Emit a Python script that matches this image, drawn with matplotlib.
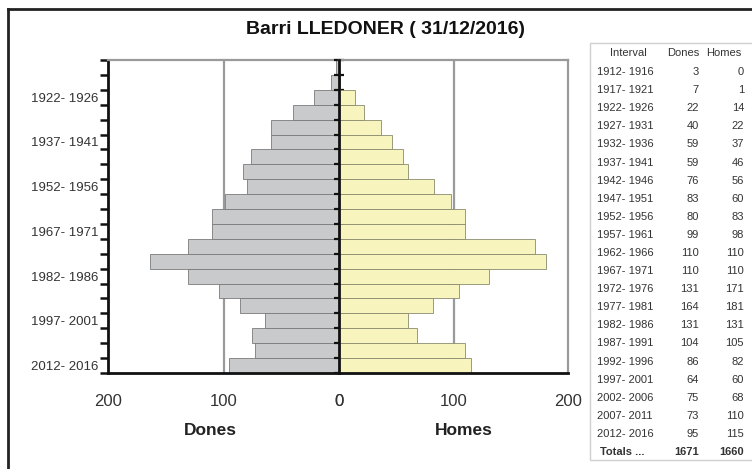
import matplotlib
matplotlib.use("Agg")
import matplotlib.pyplot as plt
import numpy as np
from matplotlib.lines import Line2D
from matplotlib.patches import Rectangle

plt.rcParams['font.family'] = ['Liberation Sans', 'DejaVu Sans']

# dades
intervals = ["1912- 1916", "1917- 1921", "1922- 1926", "1927- 1931", "1932- 1936",
             "1937- 1941", "1942- 1946", "1947- 1951", "1952- 1956", "1957- 1961",
             "1962- 1966", "1967- 1971", "1972- 1976", "1977- 1981", "1982- 1986",
             "1987- 1991", "1992- 1996", "1997- 2001", "2002- 2006", "2007- 2011",
             "2012- 2016"]
dones = [3, 7, 22, 40, 59, 59, 76, 83, 80, 99, 110, 110, 131, 164, 131, 104, 86, 64, 75, 73, 95]
homes = [0, 1, 14, 22, 37, 46, 56, 60, 83, 98, 110, 110, 171, 181, 131, 105, 82, 60, 68, 110, 115]
xticks = [0, 100, 200]
title = "Barri LLEDONER ( 31/12/2016)"

W, H = 752, 469
fig = plt.figure(figsize=(W / 100, H / 100), dpi=100)


def fx(px):
    return px / W


def fy(py):
    return 1 - py / H


c_dones = "#c9cacc"
c_homes = "#f8f4bd"
grid_c = "#9a9a9a"

y = np.arange(len(intervals))
left, mid, right = 108, 339, 568
top, bot = 60, 373

axL = fig.add_axes([fx(left), fy(bot), fx(mid - left), fy(top) - fy(bot)])
axR = fig.add_axes([fx(mid), fy(bot), fx(right - mid), fy(top) - fy(bot)])

axL.barh(y, dones, height=1.0, color=c_dones, edgecolor="#7a7a7a", linewidth=0.6, zorder=2)
axR.barh(y, homes, height=1.0, color=c_homes, edgecolor="#8a8a70", linewidth=0.6, zorder=2)

for ax in (axL, axR):
    ax.set_xlim(0, 200)
    ax.set_ylim(len(intervals) - 0.5, -0.5)
    ax.set_xticks(xticks)
    ax.set_xticklabels([str(v) for v in xticks], fontsize=12, color="#333333")
    ax.tick_params(axis="x", length=0, pad=15)
    ax.axvline(100, color=grid_c, lw=1.6, zorder=1)
    ax.spines["top"].set_color(grid_c)
    ax.spines["top"].set_linewidth(1.6)
    ax.spines["bottom"].set_color("#111111")
    ax.spines["bottom"].set_linewidth(2)
    ax.set_yticks(np.arange(len(intervals) + 1) - 0.5)
    ax.set_yticklabels([])
axL.invert_xaxis()

# eix esquerre
axL.spines["left"].set_color("#111111")
axL.spines["left"].set_linewidth(2)
axL.spines["right"].set_visible(False)
axL.tick_params(axis="y", which="major", direction="out", length=6, width=1.8, color="#111111")
axL.set_yticks(y[2::3], minor=True)
axL.set_yticklabels([intervals[i] for i in y[2::3]], minor=True, fontsize=9.5, color="#333333")
axL.tick_params(axis="y", which="minor", length=0, pad=7)

# eix central
axR.spines["left"].set_color("#111111")
axR.spines["left"].set_linewidth(2)
axR.spines["left"].set_zorder(5)
axR.spines["right"].set_color(grid_c)
axR.spines["right"].set_linewidth(1.6)
axR.tick_params(axis="y", which="major", direction="inout", length=7, width=1.6, color="#111111")

fig.text(fx(210), fy(430), "Dones", fontsize=12.5, fontweight="bold", color="#222222",
         ha="center", va="center")
fig.text(fx(464), fy(430), "Homes", fontsize=12.5, fontweight="bold", color="#222222",
         ha="center", va="center")
fig.text(fx(385), fy(29), title, fontsize=14, fontweight="bold", color="#111111",
         ha="center", va="center")

# marc exterior
fig.add_artist(Line2D([fx(8), fx(8)], [fy(9), 0], color="#222222", lw=2))
fig.add_artist(Line2D([fx(8), 1], [fy(9), fy(9)], color="#222222", lw=2))

# taula
fig.add_artist(Rectangle((fx(590), fy(460)), fx(W + 5) - fx(590), fy(43) - fy(460),
                         facecolor="none", edgecolor="#d0d0d0", lw=1))
tc = "#333333"
fs = 8
fig.text(fx(628), fy(53), "Interval", fontsize=fs, color=tc, ha="center", va="center")
fig.text(fx(683), fy(53), "Dones", fontsize=fs, color=tc, ha="center", va="center")
fig.text(fx(724), fy(53), "Homes", fontsize=fs, color=tc, ha="center", va="center")
row0, step = 72, 18.1
for i, (lab, d, h) in enumerate(zip(intervals, dones, homes)):
    ry = fy(row0 + i * step)
    fig.text(fx(597), ry, lab, fontsize=fs, color=tc, ha="left", va="center")
    fig.text(fx(699), ry, str(d), fontsize=fs, color=tc, ha="right", va="center")
    fig.text(fx(744), ry, str(h), fontsize=fs, color=tc, ha="right", va="center")
ry = fy(row0 + len(intervals) * step)
fig.text(fx(600), ry, "Totals ...", fontsize=fs, fontweight="bold", color=tc, ha="left", va="center")
fig.text(fx(699), ry, str(sum(dones)), fontsize=fs, fontweight="bold", color=tc, ha="right", va="center")
fig.text(fx(744), ry, str(sum(homes)), fontsize=fs, fontweight="bold", color=tc, ha="right", va="center")

fig.savefig("out.png", dpi=100)
